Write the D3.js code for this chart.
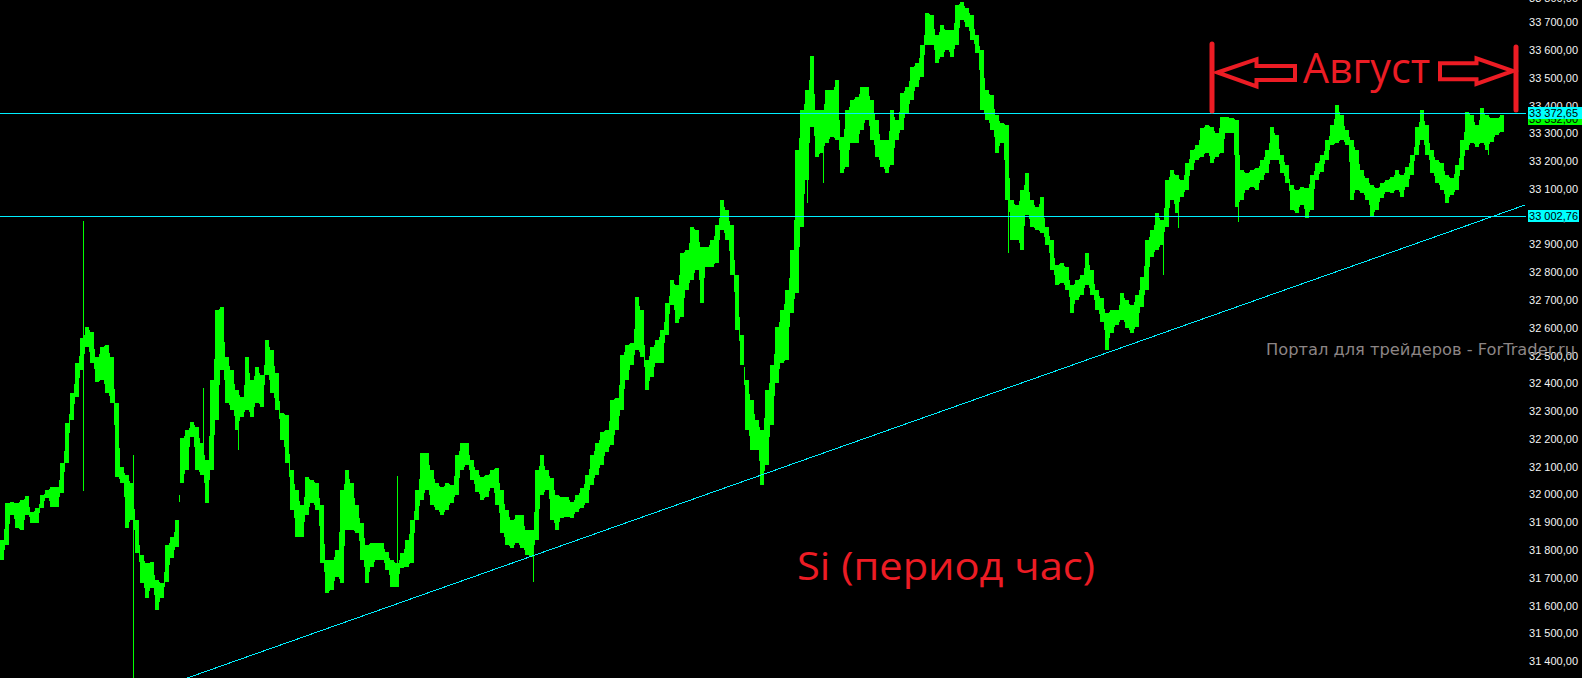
<!DOCTYPE html>
<html><head><meta charset="utf-8">
<script src="https://cdn.jsdelivr.net/npm/d3@7"></script>
<style>html,body{margin:0;padding:0;background:#000;overflow:hidden}</style>
</head><body>
<svg id="c" width="1582" height="678"></svg>
<script>
// Hourly bars of Si futures (high / low per bar)
const highs = [31836,31969,31973,31969,31980,31994,31937,31951,31998,32016,
32027,32027,32113,32257,32365,32473,32563,32603,32585,32495,
32531,32538,32495,32329,32099,32070,32041,31908,31782,31753,
31757,31692,31681,31818,31847,31908,32203,32232,32261,32243,
32185,32124,32412,32664,32675,32495,32448,32376,32351,32495,
32412,32459,32430,32556,32520,32437,32293,32286,32088,32016,
31962,32063,32052,32041,31962,31764,31764,31800,32016,32088,
32041,31962,31897,31818,31825,31825,31825,31793,31764,31753,
31789,31836,31908,32016,32149,32149,32088,32041,32027,32041,
32034,32142,32185,32185,32124,32088,32063,32070,32088,32095,
32016,31944,31908,31926,31926,31872,31872,32088,32142,32088,
32059,31998,31991,31991,31973,31998,32023,32070,32142,32185,
32225,32232,32340,32347,32502,32538,32545,32711,32664,32484,
32531,32556,32592,32689,32772,32754,32869,32880,32963,32952,
32891,32891,32916,32970,33060,33024,32970,32790,32574,32412,
32340,32268,32232,32376,32466,32603,32664,32736,32880,33240,
33384,33456,33578,33384,33384,33456,33456,33492,33287,33384,
33420,33431,33467,33467,33420,33348,33276,33276,33384,33348,
33445,33467,33539,33553,33618,33733,33726,33654,33690,33672,
33672,33762,33773,33751,33726,33654,33600,33456,33438,33366,
33337,33330,33060,33042,33096,33157,33060,33035,33071,32963,
32916,32826,32833,32819,32754,32772,32790,32869,32808,32736,
32707,32653,32664,32664,32725,32700,32682,32718,32783,32916,
32952,33013,32988,33132,33168,33150,33132,33193,33240,33258,
33319,33330,33323,33301,33359,33359,33355,33348,33168,33157,
33168,33175,33204,33240,33323,33294,33222,33186,33114,33096,
33107,33103,33150,33193,33222,33276,33330,33402,33366,33312,
33276,33240,33168,33139,33114,33103,33121,33132,33143,33168,
33150,33179,33222,33323,33384,33330,33240,33204,33193,33150,
33139,33186,33276,33377,33366,33330,33391,33366,33355,33355,
33366];
const lows = [31764,31818,31926,31879,31872,31926,31897,31897,31951,31987,
31955,31955,32005,32113,32268,32351,32448,32531,32473,32405,
32412,32365,32329,32063,32041,31879,31908,31789,31681,31627,
31663,31584,31627,31685,31771,31811,32041,32088,32207,32088,
32070,31969,32088,32268,32448,32329,32304,32232,32279,32304,
32279,32329,32315,32430,32365,32304,32196,32113,31944,31847,
31847,31926,31969,31944,31753,31645,31656,31703,31681,31872,
31872,31861,31764,31681,31739,31764,31764,31728,31667,31667,
31735,31739,31753,31908,31980,32016,31962,31944,31926,31944,
31969,31998,32088,32106,32052,32009,31980,31991,32023,31962,
31861,31818,31807,31825,31807,31782,31775,31836,31998,32016,
31908,31872,31915,31919,31915,31937,31951,31969,32034,32070,
32106,32153,32178,32232,32304,32412,32466,32520,32495,32376,
32423,32473,32473,32574,32682,32617,32639,32736,32772,32808,
32689,32819,32819,32833,32952,32916,32790,32592,32466,32232,
32160,32160,32034,32106,32250,32401,32473,32484,32653,32725,
32963,33132,33323,33215,33229,33265,33287,33276,33157,33179,
33265,33265,33312,33348,33276,33215,33179,33157,33186,33276,
33312,33373,33420,33467,33503,33618,33618,33553,33575,33600,
33575,33618,33708,33683,33636,33589,33384,33348,33312,33229,
33265,33060,32916,32916,32880,33006,32963,32952,32941,32898,
32808,32754,32761,32736,32653,32700,32718,32754,32718,32664,
32621,32520,32581,32610,32628,32599,32581,32603,32675,32736,
32855,32880,32898,32963,33060,33013,33071,33096,33168,33204,
33215,33229,33193,33215,33229,33301,33301,33035,33060,33096,
33107,33096,33132,33157,33204,33204,33157,33121,33024,33013,
33042,32995,33024,33132,33161,33204,33258,33265,33276,33258,
33060,33096,33085,33060,33000,33024,33067,33089,33085,33096,
33071,33107,33150,33222,33276,33222,33157,33121,33096,33049,
33078,33096,33168,33240,33265,33251,33265,33240,33269,33294,
33305];
// long wicks (bar index, high, low)
const wickBars  = [16, 26, 40, 47, 79, 106, 161, 164, 201, 232, 235, 247, 297];
const wickHighs = [32984, 32142, 32383, 32340, 32066, 31872, 33132, 33229, 33060, 32898, 33013, 33035, 33240];
const wickLows  = [32012, 31300, 32077, 32160, 31667, 31685, 33049, 33121, 32869, 32790, 32959, 32981, 33222];
const priceTicks = d3.range(31400, 33801, 100);
const levels = [33372.65, 33002.76];
const lastPrice = 33352;
const trendBars = [36.9, 304.5];
const trendPrices = [31339, 33042];
const augustBars = [241.9, 302.7];
const augustPrices = [33622, 33380];
const titleText = "Si (период час)";
const monthText = "Август";
const watermark = "Портал для трейдеров - ForTrader.ru";

const W = 1582, H = 678, plotRight = 1526;
const svg = d3.select("#c");
svg.append("rect").attr("width", W).attr("height", H).attr("fill", "#000");

const x = d3.scaleLinear().domain([0, highs.length - 1]).range([2.5, 2.5 + 5 * (highs.length - 1)]);
const step = x(1) - x(0);
const y = d3.scaleLinear().domain([33780, 33780 - H * 3.6]).range([0, H]);
const GREEN = "#00ff00", CYAN = "#00f0ff", RED = "#ec1c24";

// bars
svg.append("g").attr("shape-rendering", "crispEdges")
  .selectAll("rect").data(highs).join("rect")
  .attr("x", (d, i) => Math.round(x(i) - step / 2))
  .attr("width", step - 1)
  .attr("y", d => y(d))
  .attr("height", (d, i) => Math.max(1, y(lows[i]) - y(d)))
  .attr("fill", GREEN);
// thin connecting strokes between neighbouring bars
svg.append("g").attr("shape-rendering", "crispEdges")
  .selectAll("rect").data(highs.slice(1)).join("rect")
  .attr("x", (d, i) => Math.round(x(i + 1) - step / 2) - 1)
  .attr("width", 1)
  .attr("y", (d, i) => y(Math.min(d, highs[i]) + 0.3 * Math.abs(d - highs[i])))
  .attr("height", (d, i) => Math.max(1, y(Math.max(lows[i + 1], lows[i]) - 0.3 * Math.abs(lows[i + 1] - lows[i])) - y(Math.min(d, highs[i]) + 0.3 * Math.abs(d - highs[i]))))
  .attr("fill", GREEN);
svg.append("g").attr("shape-rendering", "crispEdges")
  .selectAll("line").data(wickBars).join("line")
  .attr("x1", d => Math.round(x(d)) + 0.5).attr("x2", d => Math.round(x(d)) + 0.5)
  .attr("y1", (d, i) => y(wickHighs[i])).attr("y2", (d, i) => y(wickLows[i]))
  .attr("stroke", GREEN).attr("stroke-width", 1);

// horizontal levels
svg.append("g").attr("shape-rendering", "crispEdges")
  .selectAll("line").data(levels).join("line")
  .attr("x1", 0).attr("x2", plotRight)
  .attr("y1", d => Math.round(y(d)) + 0.5).attr("y2", d => Math.round(y(d)) + 0.5)
  .attr("stroke", CYAN).attr("stroke-width", 1);

// trend line
svg.append("line").attr("shape-rendering", "crispEdges")
  .attr("x1", x(trendBars[0])).attr("y1", y(trendPrices[0]))
  .attr("x2", x(trendBars[1])).attr("y2", y(trendPrices[1]))
  .attr("stroke", CYAN).attr("stroke-width", 1);

// price scale
const loc = d3.formatLocale({decimal: ",", thousands: " ", grouping: [3], currency: ["", ""]});
const fmt = loc.format(",.2f");
const axisG = svg.append("g").attr("font-family", "Liberation Sans, Arial, sans-serif").attr("font-size", 11);
axisG.selectAll("text").data(priceTicks).join("text")
  .attr("x", 1578).attr("y", d => Math.max(y(d), -1.5)).attr("dy", "0.36em")
  .attr("text-anchor", "end").attr("fill", "#f4f4f4").text(d => fmt(d));

// current price label (green) then level labels (cyan)
function priceBox(p, bg, w) {
  const g = axisG.append("g");
  g.append("rect").attr("x", 1528).attr("width", w).attr("y", Math.round(y(p)) - 6).attr("height", 12).attr("fill", bg);
  g.append("text").attr("x", 1578).attr("y", y(p)).attr("dy", "0.36em")
    .attr("text-anchor", "end").attr("fill", "#000").text(fmt(p));
}
priceBox(lastPrice, "#00ff00", 54);
priceBox(levels[0], "#00ffff", 54);
priceBox(levels[1], "#00ffff", 51);

// watermark
svg.append("text").attr("x", 1266).attr("y", 355)
  .attr("font-family", "DejaVu Sans, sans-serif").attr("font-size", 15.5)
  .attr("fill", "#8c8585").attr("textLength", 309).attr("lengthAdjust", "spacingAndGlyphs")
  .text(watermark);

// August bracket
const xL = x(augustBars[0]), xR = x(augustBars[1]);
const yT = y(augustPrices[0]), yB = y(augustPrices[1]);
const ann = svg.append("g").attr("stroke", RED).attr("fill", "none");
ann.append("line").attr("x1", xL).attr("x2", xL).attr("y1", yT).attr("y2", yB)
  .attr("stroke-width", 5).attr("stroke-linecap", "round");
ann.append("line").attr("x1", xR).attr("x2", xR).attr("y1", yT + 3).attr("y2", yB - 1)
  .attr("stroke-width", 5).attr("stroke-linecap", "round");
const ym = 72.5;
ann.append("path").attr("stroke-width", 4).attr("stroke-linejoin", "miter")
  .attr("d", `M${xL + 5.5},${ym} L${xL + 44.5},${ym - 13.3} L${xL + 44.5},${ym - 6.5} L${xL + 83},${ym - 6.5} L${xL + 83},${ym + 7.5} L${xL + 44.5},${ym + 7.5} L${xL + 44.5},${ym + 14} Z`);
ann.append("path").attr("stroke-width", 4).attr("stroke-linejoin", "miter")
  .attr("d", `M${xR - 76},${ym - 9.2} L${xR - 39.5},${ym - 9.2} L${xR - 39.5},${ym - 14.2} L${xR - 3},${ym - 1.5} L${xR - 39.5},${ym + 11.5} L${xR - 39.5},${ym + 6.8} L${xR - 76},${ym + 6.8} Z`);
svg.append("text").attr("x", xL + 91).attr("y", 83)
  .attr("font-family", "Open Sans, Noto Sans, sans-serif").attr("font-size", 42)
  .attr("fill", RED).attr("textLength", 127).attr("lengthAdjust", "spacingAndGlyphs")
  .text(monthText);

// title
svg.append("text").attr("x", 797).attr("y", 580)
  .attr("font-family", "Open Sans, Noto Sans, sans-serif").attr("font-size", 39)
  .attr("fill", RED).attr("textLength", 298).attr("lengthAdjust", "spacingAndGlyphs")
  .text(titleText);
</script>
</body></html>
